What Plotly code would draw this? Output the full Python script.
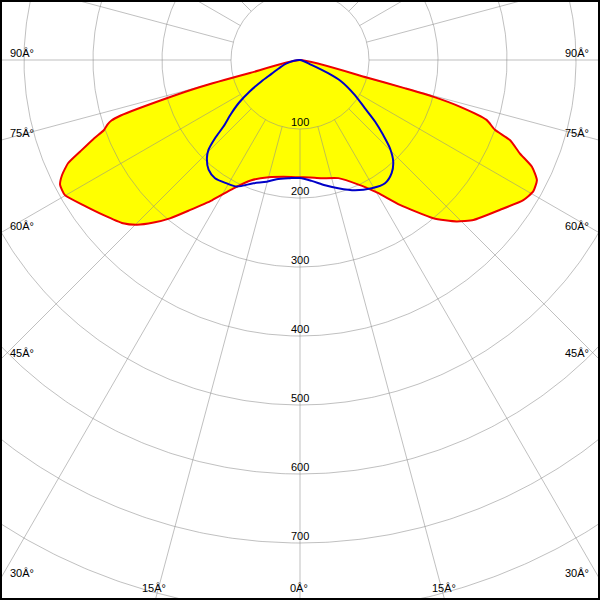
import numpy as np
import plotly.graph_objects as go

# ---- data (signed gamma in degrees: negative = left half-plane) ----
red_gamma = [-90, -76, -75.4, -74.9, -74.0, -72.8, -72.2, -71.5, -70.3, -69.2, -67.4, -66.0,
             -64.2, -62.5, -60.1, -56.2, -51.8, -47.3, -44.7, -42.0, -39.4, -36.3, -32.1,
             -27.5, -22.0, -15.0, -8.0, 0, 5, 10, 18, 25.6, 28, 30.5, 34.6, 40.1, 44.1, 47.3,
             53.1, 57.9, 60.6, 63.1, 65.3, 67.0, 69.1, 70.3, 72.2, 73.7, 74.6, 74.9, 75.3, 76, 90]
red_I = [0, 0, 75, 150, 201, 272, 287, 294, 302, 319, 345, 368,
         383, 392, 393, 378, 363, 349, 336, 317, 297, 270, 240,
         210, 188, 176, 171, 170, 171, 174, 180, 201, 211, 224, 255, 300, 326, 342,
         362, 382, 388, 385, 370, 346, 326, 300, 284, 242, 200, 158, 100, 0, 0]

blue_gamma = [-90, -80, -76, -70, -64, -61, -58, -55, -52, -49, -47.4, -45.5, -43.5,
              -39.8, -35.7, -30.7, -26.5, -20.7, -15.3, -11.1, -5, 0, 5.5, 11.3, 16.6, 22.9,
              29.2, 34.6, 39, 42.5, 45.5, 48, 50.6, 53.4, 57.5, 62.5, 64.8, 66.9, 70, 90]
blue_I = [0, 0, 20, 30, 46, 64, 86, 108, 127, 147, 167, 186, 196,
          207, 211, 208, 205, 191, 183, 176, 172, 171, 176, 185, 194, 205,
          213, 217, 211, 200, 183, 162, 141, 117, 94, 68, 45, 18, 0, 0]

radial_ticks = [100, 200, 300, 400, 500, 600, 700, 800, 900]
radial_labels = ["100", "200", "300", "400", "500", "600", "700"]
spoke_angles = list(range(0, 360, 15))
angle_labels = [90, 75, 60, 45, 30, 15, 0]

# ---- geometry of the view (pixel scale) ----
PX_PER_UNIT = 0.69
W = H = 600
CX, CY = 300, 60
x_min, x_max = -CX / PX_PER_UNIT, (W - CX) / PX_PER_UNIT
y_min, y_max = -(H - CY) / PX_PER_UNIT, CY / PX_PER_UNIT


def to_xy(gamma_deg, r):
    g = np.radians(np.asarray(gamma_deg, dtype=float))
    r = np.asarray(r, dtype=float)
    x, y = r * np.sin(g), -r * np.cos(g)
    # drop consecutive coincident points (several zero intensities map to the origin)
    keep = np.ones(len(x), dtype=bool)
    keep[1:] = (np.abs(np.diff(x)) > 1e-9) | (np.abs(np.diff(y)) > 1e-9)
    return x[keep], y[keep]


grid_col = "rgba(140,140,140,0.55)"
fig = go.Figure()

# yellow fill of the red curve
rx, ry = to_xy(red_gamma, red_I)
fig.add_trace(go.Scatter(x=rx, y=ry, mode="lines", fill="toself", fillcolor="#FFFF00",
                         line=dict(width=0, color="rgba(0,0,0,0)", shape="spline", smoothing=0.5),
                         hoverinfo="skip"))

# grid circles
t = np.linspace(0, 360, 721)
for r in radial_ticks:
    gx, gy = to_xy(t, np.full_like(t, r))
    fig.add_trace(go.Scatter(x=gx, y=gy, mode="lines", line=dict(color=grid_col, width=1),
                             hoverinfo="skip"))

# spokes
sx, sy = [], []
for a in spoke_angles:
    px, py = to_xy([a, a], [radial_ticks[0], 2000])
    sx += list(px) + [None]
    sy += list(py) + [None]
fig.add_trace(go.Scatter(x=sx, y=sy, mode="lines", line=dict(color=grid_col, width=1),
                         hoverinfo="skip"))

# curves
fig.add_trace(go.Scatter(x=rx, y=ry, mode="lines",
                         line=dict(color="#EE0000", width=2, shape="spline", smoothing=0.5),
                         hoverinfo="skip"))
bx, by = to_xy(blue_gamma, blue_I)
fig.add_trace(go.Scatter(x=bx, y=by, mode="lines",
                         line=dict(color="#0000C8", width=2, shape="spline", smoothing=0.8),
                         hoverinfo="skip"))

font = dict(family="Liberation Sans, Arial, sans-serif", size=11, color="black")
ann = []
for lab in radial_labels:
    r = float(lab)
    ann.append(dict(x=0, y=-r, xref="x", yref="y", text=lab, showarrow=False,
                    xanchor="center", yanchor="middle", yshift=7, font=font))

for a in angle_labels:
    for side in (-1, 1):
        if a == 0 and side == 1:
            continue
        g = np.radians(a)
        dx, dy = np.sin(g) * side, -np.cos(g)
        cands = []
        if dx != 0:
            cands.append((x_max if dx > 0 else x_min) / dx)
        if dy < 0:
            cands.append(y_min / dy)
        tt = min(cands)
        ex, ey = dx * tt, dy * tt
        txt = f"{a}Â°"
        hits_bottom = abs(ey - y_min) < 1e-6
        if hits_bottom:
            ann.append(dict(x=ex, y=y_min, xref="x", yref="y", text=txt, showarrow=False,
                            xanchor="center", yanchor="middle", yshift=12, xshift=-1, font=font))
        elif side < 0:
            ann.append(dict(x=x_min, y=ey, xref="x", yref="y", text=txt, showarrow=False,
                            xanchor="left", yanchor="middle", xshift=8, yshift=7, font=font))
        else:
            ann.append(dict(x=x_max, y=ey, xref="x", yref="y", text=txt, showarrow=False,
                            xanchor="right", yanchor="middle", xshift=-9, yshift=7, font=font))

fig.update_layout(
    width=W, height=H, margin=dict(l=0, r=0, t=0, b=0),
    paper_bgcolor="white", plot_bgcolor="white", showlegend=False,
    xaxis=dict(range=[x_min, x_max], visible=False, fixedrange=True),
    yaxis=dict(range=[y_min, y_max], visible=False, fixedrange=True),
    annotations=ann,
    shapes=[dict(type="rect", xref="paper", yref="paper", x0=0, y0=0, x1=1, y1=1,
                 line=dict(color="black", width=4), layer="above")],
)

fig.write_html("out.html", config={"displayModeBar": False},
               post_script="document.body.style.margin='0';")
